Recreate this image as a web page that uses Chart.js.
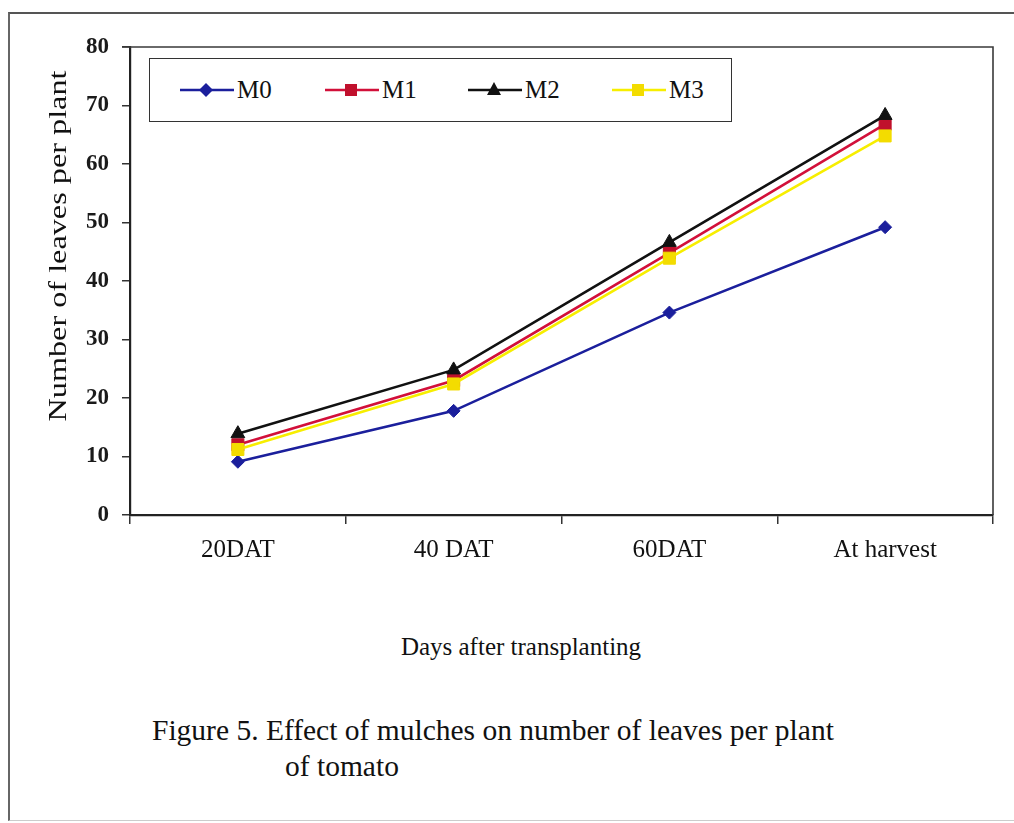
<!DOCTYPE html>
<html>
<head>
<meta charset="utf-8">
<script src="https://cdn.jsdelivr.net/npm/chart.js@4/dist/chart.umd.min.js"></script>
<style>
  html, body { margin: 0; padding: 0; background: #fff; }
  #wrap { position: relative; width: 1014px; height: 823px; overflow: hidden; font-family: "Liberation Serif", "Times New Roman", serif; color: #111; }
  #frame { position: absolute; left: 8px; top: 12px; width: 1020px; height: 806px; border-left: 2px solid #666; border-top: 2px solid #555; border-bottom: 1px solid #ccc; }
  #chartBox { position: absolute; left: 0; top: 0; width: 1014px; height: 600px; }
  #ytitle { position: absolute; left: -142px; top: 231px; width: 400px; height: 30px; line-height: 30px; text-align: center; font-size: 25px; transform-origin: 50% 50%; transform: rotate(-90deg) scaleX(1.29); white-space: nowrap; }
  #xtitle { position: absolute; left: 321px; top: 632px; width: 400px; line-height: 30px; text-align: center; font-size: 25px; white-space: nowrap; }
  .cap { position: absolute; font-size: 29.5px; line-height: 36px; white-space: nowrap; }
  #legend { position: absolute; left: 149px; top: 58px; width: 583px; height: 64px; border: 1.5px solid #333; background: #fff; box-sizing: border-box; }
  .li { position: absolute; top: 0; height: 61px; display: flex; align-items: center; font-size: 25px; }
  .li svg { display: block; }
</style>
</head>
<body>
<div id="wrap">
  <div id="frame"></div>
  <div id="chartBox"><canvas id="c"></canvas></div>
  <div id="legend"></div>
  <div id="ytitle">Number of leaves per plant</div>
  <div id="xtitle">Days after transplanting</div>
  <div class="cap" style="left:152px; top:712px;">Figure 5. Effect of mulches on number of leaves per plant</div>
  <div class="cap" style="left:285px; top:748px;">of tomato</div>
</div>
<script>
// ---- data ----
const categories = ["20DAT", "40 DAT", "60DAT", "At harvest"];
const seriesNames = ["M0", "M1", "M2", "M3"];
const M0 = [9.1, 17.8, 34.6, 49.2];
const M1 = [12.0, 23.0, 44.8, 66.8];
const M2 = [13.9, 24.8, 46.6, 68.3];
const M3 = [11.2, 22.4, 43.9, 64.8];
const yTicks = [0, 10, 20, 30, 40, 50, 60, 70, 80];

// ---- styles ----
const styles = [
  { line: "#1b1f9c", fill: "#1b1f9c", shape: "rectRot", r: 6.5 },
  { line: "#d2103a", fill: "#c0102c", shape: "rect", r: 8.5 },
  { line: "#111111", fill: "#111111", shape: "triangle", r: 8 },
  { line: "#f7ee00", fill: "#f3dc00", shape: "rect", r: 8.5 }
];
const seriesData = [M0, M1, M2, M3];

const datasets = seriesData.map((d, i) => ({
  label: seriesNames[i],
  data: d,
  borderColor: styles[i].line,
  backgroundColor: styles[i].fill,
  pointBackgroundColor: styles[i].fill,
  pointBorderColor: styles[i].fill,
  pointBorderWidth: 1,
  pointStyle: styles[i].shape,
  pointRadius: styles[i].r,
  pointHoverRadius: styles[i].r,
  borderWidth: 2.6,
  tension: 0,
  fill: false,
  order: 3 - i
}));

const plotFrame = {
  id: "plotFrame",
  beforeDatasetsDraw(chart) {
    const { ctx, chartArea: a } = chart;
    ctx.save();
    ctx.strokeStyle = "#3a3a3a";
    ctx.lineWidth = 1.6;
    ctx.beginPath();
    ctx.moveTo(a.left - 8, a.top);
    ctx.lineTo(a.right, a.top);
    ctx.lineTo(a.right, a.bottom);
    ctx.stroke();
    ctx.restore();
  }
};

new Chart(document.getElementById("c"), {
  type: "line",
  data: { labels: categories, datasets },
  options: {
    responsive: true,
    maintainAspectRatio: false,
    animation: false,
    events: [],
    layout: { padding: { top: 47, right: 21, left: 0, bottom: 0 } },
    plugins: { legend: { display: false }, tooltip: { enabled: false }, title: { display: false } },
    scales: {
      x: {
        type: "category",
        offset: true,
        afterFit(s) { s.height = 85; },
        grid: { offset: true, drawOnChartArea: false, drawTicks: true, tickLength: 9, color: "#333", lineWidth: 1.5 },
        border: { display: true, color: "#222", width: 2.2 },
        ticks: { color: "#111", font: { family: "Liberation Serif", size: 25 }, padding: 11, maxRotation: 0 }
      },
      y: {
        min: 0,
        max: 80,
        afterFit(s) { s.width = 130; },
        afterBuildTicks(s) { s.ticks = yTicks.map(v => ({ value: v })); },
        grid: { drawOnChartArea: false, drawTicks: true, tickLength: 8, color: "#333", lineWidth: 1.5 },
        border: { display: true, color: "#222", width: 2.2 },
        ticks: { color: "#1a1a1a", font: { family: "Liberation Serif", size: 23, weight: "bold" }, padding: 13 }
      }
    }
  },
  plugins: [plotFrame]
});

// ---- HTML legend (positions of items) ----
const legendPos = [30, 175, 318, 462];
const legend = document.getElementById("legend");
seriesNames.forEach((name, i) => {
  const st = styles[i];
  let marker = "";
  if (st.shape === "rectRot") marker = '<polygon points="26,4 33,11 26,18 19,11" fill="' + st.fill + '"/>';
  else if (st.shape === "rect") marker = '<rect x="20" y="5" width="12" height="12" fill="' + st.fill + '"/>';
  else marker = '<polygon points="26,3 33,16 19,16" fill="' + st.fill + '"/>';
  const el = document.createElement("div");
  el.className = "li";
  el.style.left = legendPos[i] + "px";
  el.innerHTML = '<svg width="54" height="22"><line x1="0" y1="11" x2="54" y2="11" stroke="' + st.line + '" stroke-width="2.6"/>' + marker + '</svg><span style="margin-left:3px">' + name + '</span>';
  legend.appendChild(el);
});
</script>
</body>
</html>
